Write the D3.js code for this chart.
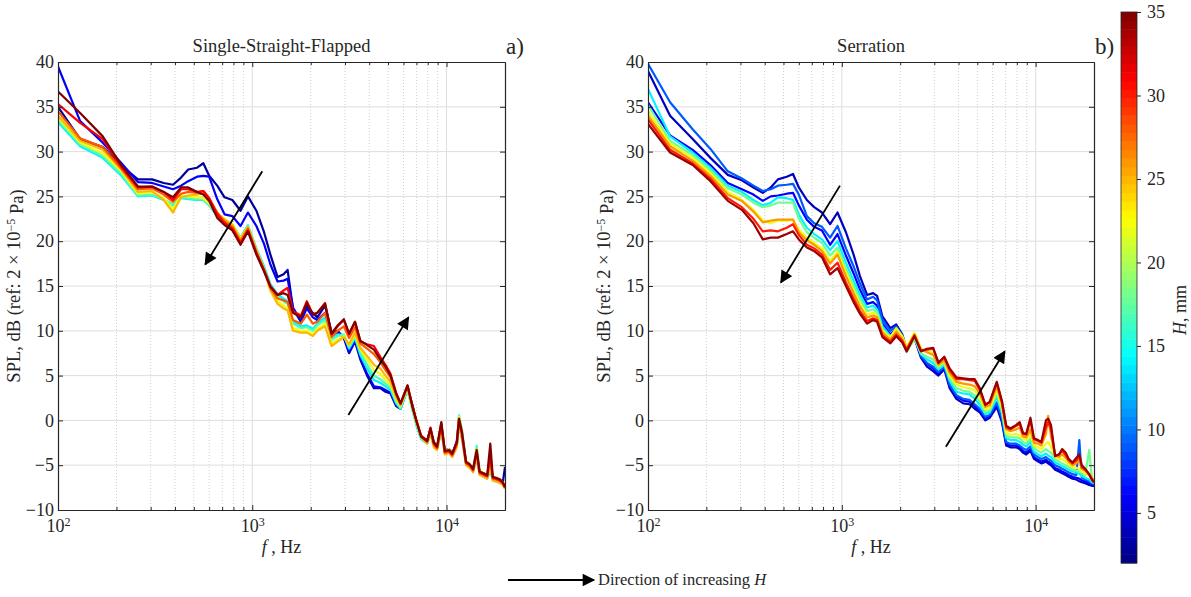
<!DOCTYPE html>
<html>
<head>
<meta charset="utf-8">
<script src="https://cdn.jsdelivr.net/npm/d3@7"></script>
<style>
  body { margin: 0; background: #fff; }
  text { font-family: "Liberation Serif", "Times New Roman", serif; fill: #262626; }
</style>
</head>
<body>
<div id="container"></div>
<script>
// frequency bins shared by both panels (Hz)
const freq = [100, 130, 170, 210, 258, 305, 350, 391, 430, 468, 520, 560, 600, 660, 720, 790, 870, 950,
  1050, 1150, 1240, 1350, 1450, 1520, 1620, 1780, 1910, 2050, 2160, 2370, 2560, 2750, 2960, 3150, 3380,
  3600, 3900, 4230, 4560, 4850, 5150, 5500, 5800, 6300, 6700, 7050, 7400, 7950, 8270, 8600, 8940, 9400,
  9800, 10300, 10700, 11300, 11600, 12000, 12600, 13200, 13700, 14300, 14800, 15500, 16200, 16800,
  17300, 18000, 18900, 19500, 20000]

// H (mm) of each curve, one column per H in the tables below
const hLeft = [3, 6, 14, 17, 22, 25, 28, 31, 35]
const hRight = [4, 6, 9, 14, 18, 22, 26, 30, 34]

// SPL (dB) rows, one row per frequency bin -- Single-Straight-Flapped
const splLeft = [
  [35.0, 39.5, 33.3, 33.5, 33.8, 34.0, 34.5, 35.3, 36.7],
  [31.4, 33.4, 30.6, 30.8, 31.0, 31.2, 31.5, 33.2, 34.3],
  [30.5, 31.0, 29.3, 29.5, 29.8, 30.2, 30.5, 31.4, 31.7],
  [28.5, 28.8, 27.4, 27.6, 27.9, 28.1, 28.2, 28.4, 28.6],
  [26.9, 26.6, 25.0, 25.1, 25.3, 25.5, 25.8, 26.0, 26.1],
  [26.9, 26.5, 25.1, 25.2, 25.5, 25.6, 25.9, 26.1, 26.1],
  [26.5, 26.1, 24.6, 24.7, 24.8, 24.6, 25.2, 25.5, 25.5],
  [26.3, 25.8, 24.0, 24.1, 23.6, 23.2, 24.4, 24.6, 24.9],
  [27.1, 26.2, 24.8, 24.9, 25.1, 24.9, 25.3, 25.8, 26.0],
  [28.0, 26.7, 24.7, 24.8, 25.0, 25.1, 25.5, 25.8, 26.0],
  [28.2, 27.2, 24.6, 24.7, 24.9, 25.2, 25.4, 25.5, 25.5],
  [28.7, 27.3, 24.6, 24.7, 24.8, 25.4, 25.6, 25.6, 25.2],
  [27.3, 27.2, 24.0, 24.1, 24.2, 24.6, 24.8, 24.8, 24.5],
  [26.2, 24.7, 22.8, 22.9, 23.0, 23.1, 23.2, 23.0, 22.6],
  [24.9, 23.0, 22.4, 22.4, 22.5, 22.4, 22.2, 22.0, 21.8],
  [24.6, 22.8, 21.8, 21.9, 21.9, 21.8, 21.6, 21.4, 21.2],
  [23.4, 21.7, 20.4, 20.4, 20.3, 20.2, 20.0, 19.8, 19.6],
  [25.0, 23.2, 21.8, 21.7, 21.6, 21.6, 21.4, 21.2, 21.1],
  [23.4, 21.7, 19.2, 19.0, 19.0, 19.0, 18.8, 18.7, 18.5],
  [21.0, 19.7, 17.2, 17.0, 16.9, 16.8, 16.8, 16.8, 16.6],
  [18.5, 17.4, 15.2, 14.9, 14.6, 14.5, 14.8, 15.0, 14.9],
  [16.0, 15.5, 14.1, 13.8, 13.3, 13.0, 13.6, 14.0, 14.0],
  [16.3, 15.6, 13.6, 13.3, 12.8, 12.5, 13.4, 14.5, 14.2],
  [16.8, 15.8, 13.3, 13.0, 12.5, 12.3, 13.2, 14.8, 14.0],
  [12.5, 12.6, 11.0, 10.8, 10.3, 10.0, 11.2, 12.2, 12.0],
  [11.0, 11.1, 10.5, 10.3, 10.0, 9.8, 10.8, 11.7, 11.5],
  [12.8, 12.5, 10.6, 10.4, 10.0, 9.8, 11.8, 13.3, 13.1],
  [12.0, 11.5, 10.2, 10.0, 9.6, 9.4, 10.8, 11.8, 11.8],
  [11.5, 11.2, 10.8, 10.6, 10.2, 10.0, 11.0, 12.0, 12.0],
  [12.8, 12.0, 11.5, 11.2, 10.8, 10.5, 12.0, 13.1, 13.0],
  [9.8, 9.6, 9.3, 9.0, 8.6, 8.3, 9.3, 9.6, 9.7],
  [10.0, 9.8, 9.6, 9.4, 9.0, 8.8, 10.0, 10.5, 10.6],
  [9.2, 9.3, 9.5, 9.6, 9.4, 9.3, 10.5, 11.2, 11.3],
  [7.5, 7.6, 8.0, 8.2, 8.4, 8.5, 9.2, 9.6, 9.7],
  [8.8, 9.0, 9.2, 9.4, 9.6, 9.8, 10.4, 11.0, 11.0],
  [6.8, 7.0, 7.3, 7.6, 7.9, 8.1, 8.6, 8.8, 8.9],
  [5.0, 5.2, 5.8, 6.2, 6.8, 7.2, 8.0, 8.5, 8.4],
  [3.6, 3.8, 4.5, 5.0, 5.6, 6.2, 7.4, 8.3, 7.9],
  [3.6, 3.7, 4.2, 4.6, 5.2, 5.8, 6.5, 7.1, 6.8],
  [3.2, 3.4, 3.8, 4.1, 4.5, 5.0, 5.6, 6.2, 6.0],
  [3.0, 3.1, 3.4, 3.7, 4.0, 4.3, 4.8, 5.2, 5.0],
  [1.6, 1.7, 1.9, 2.1, 2.4, 2.6, 2.9, 3.1, 3.0],
  [1.3, 1.4, 1.3, 1.4, 1.6, 1.7, 1.8, 1.9, 1.9],
  [3.5, 3.5, 3.4, 3.5, 3.6, 3.7, 3.8, 3.9, 3.9],
  [1.6, 1.4, 1.0, 1.1, 1.2, 1.3, 1.4, 1.5, 1.4],
  [-0.5, -0.6, -0.8, -0.6, -0.5, -0.4, -0.3, -0.2, -0.3],
  [-1.8, -1.9, -2.1, -2.0, -1.8, -1.9, -1.8, -1.7, -1.8],
  [-2.2, -2.3, -2.6, -2.5, -2.3, -2.6, -2.4, -2.3, -2.3],
  [-1.2, -1.3, -1.6, -1.4, -1.2, -1.4, -1.0, -0.8, -0.9],
  [-2.4, -2.6, -2.8, -2.7, -2.6, -3.0, -2.7, -2.5, -2.5],
  [-2.9, -3.0, -3.2, -3.0, -2.9, -3.3, -3.1, -3.0, -2.9],
  [-1.0, -0.9, -1.2, -0.5, -0.6, -1.0, -0.6, -0.3, -0.2],
  [-3.3, -3.5, -3.7, -3.5, -3.4, -3.8, -3.6, -3.5, -3.4],
  [-3.2, -3.3, -3.6, -3.3, -3.2, -3.6, -3.5, -3.4, -3.3],
  [-3.6, -3.8, -4.0, -3.8, -3.7, -4.1, -3.9, -3.8, -3.7],
  [-2.6, -2.3, -2.9, -2.6, -2.6, -3.0, -2.7, -2.5, -2.4],
  [-0.3, 0.3, -0.5, 0.6, 0.4, -0.2, 0.0, 0.1, 0.2],
  [-1.8, -1.2, -2.0, -1.0, -1.3, -2.0, -1.6, -1.4, -1.3],
  [-4.6, -4.7, -4.9, -4.6, -4.5, -5.0, -4.8, -4.7, -4.6],
  [-5.0, -5.1, -5.3, -5.0, -4.9, -5.3, -5.1, -5.0, -4.9],
  [-5.4, -5.5, -5.7, -5.5, -5.4, -5.8, -5.6, -5.5, -5.4],
  [-4.2, -4.0, -4.3, -2.8, -3.2, -4.0, -3.6, -3.5, -3.3],
  [-5.7, -5.8, -6.0, -5.6, -5.6, -6.1, -5.9, -5.8, -5.7],
  [-5.9, -6.1, -6.3, -6.0, -5.9, -6.3, -6.1, -6.0, -5.9],
  [-6.1, -6.3, -6.5, -6.2, -6.1, -6.5, -6.3, -6.2, -6.1],
  [-5.2, -5.0, -5.6, -4.8, -4.6, -5.2, -4.2, -3.8, -2.6],
  [-6.4, -6.5, -6.7, -6.4, -6.3, -6.7, -6.5, -6.4, -6.3],
  [-6.5, -6.6, -6.8, -6.5, -6.4, -6.8, -6.6, -6.5, -6.4],
  [-6.7, -6.8, -7.0, -6.7, -6.6, -7.0, -6.8, -6.7, -6.6],
  [-6.9, -7.0, -7.2, -7.0, -6.9, -7.2, -7.0, -7.0, -6.9],
  [-5.2, -7.4, -7.6, -7.4, -7.3, -7.6, -7.5, -7.5, -7.4]
]

// SPL (dB) rows -- Serration
const splRight = [
  [39.0, 35.5, 39.8, 37.0, 35.2, 34.5, 34.0, 33.6, 33.1],
  [34.0, 31.8, 35.5, 31.7, 31.2, 30.9, 30.6, 30.2, 29.9],
  [31.4, 30.2, 32.5, 29.9, 29.6, 29.3, 29.0, 28.7, 28.5],
  [29.3, 28.5, 30.3, 28.2, 27.9, 27.6, 27.3, 27.0, 26.7],
  [27.4, 26.5, 27.8, 26.2, 25.9, 25.5, 25.2, 24.8, 24.5],
  [26.8, 25.8, 27.0, 25.5, 25.2, 24.6, 24.5, 23.8, 23.5],
  [26.0, 25.2, 26.2, 24.6, 24.3, 23.5, 23.3, 22.5, 22.0],
  [25.4, 24.5, 25.6, 24.0, 23.8, 22.3, 22.1, 21.1, 20.2],
  [26.0, 25.0, 25.8, 24.3, 24.0, 22.0, 22.3, 21.2, 20.4],
  [26.9, 25.1, 26.2, 24.9, 24.3, 22.3, 22.4, 21.1, 20.4],
  [27.2, 25.3, 26.3, 24.8, 24.3, 22.3, 22.4, 21.5, 20.8],
  [27.5, 25.4, 26.4, 24.6, 24.3, 22.4, 22.4, 21.9, 21.1],
  [26.0, 24.0, 25.2, 23.0, 22.5, 21.3, 21.0, 20.7, 20.2],
  [24.6, 22.4, 22.8, 21.5, 21.0, 20.4, 20.1, 19.6, 19.3],
  [23.8, 21.6, 22.0, 20.8, 20.4, 19.8, 19.6, 19.2, 18.9],
  [23.2, 21.2, 21.6, 20.2, 19.8, 19.2, 18.9, 18.5, 18.2],
  [21.9, 19.6, 20.4, 19.0, 18.4, 17.8, 17.5, 16.8, 16.3],
  [23.2, 20.8, 21.7, 20.0, 19.3, 18.8, 18.5, 17.6, 17.0],
  [21.0, 18.4, 19.2, 17.6, 17.0, 16.5, 16.1, 15.4, 15.0],
  [18.5, 16.4, 17.2, 15.6, 15.0, 14.5, 14.2, 13.6, 13.2],
  [16.1, 14.6, 15.3, 14.0, 13.5, 13.0, 12.7, 12.2, 11.9],
  [14.0, 13.0, 13.5, 12.6, 12.2, 11.8, 11.5, 11.1, 10.8],
  [14.2, 13.2, 13.8, 12.8, 12.4, 12.0, 11.7, 11.4, 11.2],
  [13.9, 12.8, 13.4, 12.4, 12.1, 11.7, 11.5, 11.2, 11.0],
  [11.6, 10.8, 11.2, 10.5, 10.2, 10.0, 9.8, 9.5, 9.3],
  [10.3, 9.6, 10.0, 9.4, 9.0, 9.3, 9.0, 8.8, 8.6],
  [10.7, 10.2, 10.5, 10.0, 9.5, 10.3, 9.9, 9.6, 9.4],
  [9.6, 9.3, 9.5, 9.2, 8.8, 9.4, 9.1, 8.9, 8.7],
  [7.9, 7.9, 8.0, 7.9, 7.6, 8.2, 8.0, 7.9, 7.7],
  [9.2, 9.2, 9.3, 9.3, 9.1, 9.8, 9.6, 9.5, 9.4],
  [7.0, 7.2, 7.2, 7.4, 7.5, 8.0, 7.9, 7.8, 7.7],
  [6.0, 6.3, 6.4, 6.8, 7.1, 7.8, 7.6, 7.9, 8.0],
  [5.5, 5.8, 6.0, 6.4, 6.8, 7.5, 7.3, 8.0, 8.1],
  [5.0, 5.2, 5.4, 5.7, 5.9, 6.1, 6.2, 6.5, 6.4],
  [5.7, 5.9, 6.0, 6.2, 6.4, 6.6, 6.7, 7.0, 7.1],
  [3.6, 3.9, 4.0, 4.4, 4.7, 5.0, 5.3, 5.6, 5.8],
  [2.4, 2.7, 2.8, 3.2, 3.6, 4.0, 4.3, 4.6, 4.8],
  [1.9, 2.2, 2.4, 3.0, 3.3, 3.7, 4.1, 4.6, 4.7],
  [1.8, 2.1, 2.3, 2.9, 3.2, 3.6, 4.0, 4.5, 4.6],
  [1.3, 1.6, 1.8, 2.4, 2.8, 3.3, 3.8, 4.4, 4.6],
  [0.9, 1.1, 1.3, 1.7, 2.1, 2.6, 3.0, 3.4, 3.6],
  [0.0, 0.2, 0.4, 0.7, 0.9, 1.2, 1.5, 1.8, 1.7],
  [0.3, 0.5, 0.6, 0.9, 1.1, 1.4, 1.7, 2.0, 2.1],
  [1.5, 1.8, 2.0, 2.6, 3.0, 3.4, 3.8, 4.2, 4.3],
  [-0.2, 0.1, 0.3, 0.8, 1.1, 1.5, 1.8, 2.0, 2.2],
  [-2.8, -2.6, -2.4, -2.0, -1.7, -1.4, -1.0, -0.8, -0.6],
  [-3.0, -2.8, -2.6, -2.2, -1.9, -1.6, -1.2, -1.0, -0.9],
  [-3.0, -2.8, -2.6, -2.2, -1.9, -1.5, -1.0, -0.6, -0.5],
  [-3.2, -3.0, -2.8, -2.4, -2.0, -1.7, -0.8, -0.4, -0.2],
  [-3.6, -3.4, -3.1, -2.7, -2.4, -2.0, -1.8, -1.5, -1.4],
  [-3.8, -3.6, -3.3, -2.9, -2.6, -2.2, -1.9, -1.6, -1.5],
  [-3.4, -3.2, -2.9, -2.4, -2.0, -1.5, -1.0, 0.0, 0.3],
  [-4.3, -4.1, -3.8, -3.5, -3.1, -2.8, -2.5, -2.1, -2.0],
  [-4.6, -4.4, -4.1, -3.8, -3.4, -3.0, -2.6, -2.3, -2.2],
  [-4.8, -4.6, -4.3, -4.0, -3.6, -3.2, -2.8, -2.5, -2.4],
  [-4.6, -4.4, -4.1, -3.7, -3.2, -2.6, -1.5, -0.8, 0.0],
  [-4.8, -4.6, -4.3, -3.9, -3.4, -2.4, 0.5, -0.2, 0.2],
  [-5.0, -4.8, -4.5, -4.1, -3.6, -3.0, -1.8, -1.0, -0.5],
  [-5.5, -5.3, -5.0, -4.7, -4.3, -4.0, -3.8, -3.9, -4.0],
  [-5.7, -5.5, -5.2, -4.9, -4.6, -4.3, -4.1, -3.8, -3.8],
  [-5.9, -5.7, -5.4, -5.1, -4.8, -4.3, -3.8, -3.4, -3.2],
  [-6.1, -5.9, -5.6, -5.3, -5.0, -4.6, -4.2, -3.9, -3.6],
  [-6.3, -6.1, -5.8, -5.5, -5.2, -4.9, -4.6, -4.4, -4.3],
  [-6.5, -6.3, -6.0, -5.7, -5.5, -5.2, -5.0, -4.8, -4.7],
  [-6.6, -6.4, -6.1, -5.8, -5.6, -5.3, -4.8, -4.5, -4.2],
  [-6.8, -6.5, -2.2, -6.0, -5.7, -5.4, -4.4, -3.9, -3.8],
  [-6.9, -6.7, -6.4, -6.2, -5.9, -5.7, -5.4, -5.2, -5.0],
  [-7.0, -6.8, -6.6, -6.4, -6.1, -5.9, -5.6, -5.5, -5.4],
  [-7.2, -7.0, -6.8, -6.6, -3.3, -6.2, -6.0, -6.1, -6.0],
  [-7.3, -7.1, -7.0, -6.9, -6.5, -6.5, -6.4, -6.6, -6.6],
  [-7.3, -7.2, -7.1, -7.0, -6.8, -6.8, -6.7, -6.9, -6.9]
]

const yTicks = [-10, -5, 0, 5, 10, 15, 20, 25, 30, 35, 40]
const xMajor = [100, 1000, 10000]
const xMinor = [200, 300, 400, 500, 600, 700, 800, 900, 2000, 3000, 4000, 5000, 6000, 7000, 8000, 9000]
const cbTicks = [5, 10, 15, 20, 25, 30, 35]
const hRange = [2, 35]

// arrow annotations in data units: [f0, spl0, f1, spl1], head at the second point
const arrowsLeft = [[1126, 27.8, 573, 17.4], [3124, 0.6, 6370, 11.5]]
const arrowsRight = [[978, 26.2, 485, 15.4], [3443, -2.95, 6927, 7.7]]

const width = 1191, height = 597
const plotTop = 62, plotBottom = 510

const svg = d3.select("#container").append("svg")
  .attr("width", width)
  .attr("height", height)

// arrow head marker
svg.append("defs").append("marker")
  .attr("id", "head")
  .attr("viewBox", "0 0 10 10")
  .attr("refX", 9).attr("refY", 5)
  .attr("markerWidth", 8.5).attr("markerHeight", 7)
  .attr("markerUnits", "strokeWidth")
  .attr("orient", "auto")
  .append("path").attr("d", "M0,0 L10,5 L0,10 z").attr("fill", "#000")

// matlab style jet colormap
function jet(t) {
  const c = v => Math.round(255 * Math.max(0, Math.min(1, v)))
  return `rgb(${c(1.5 - Math.abs(4 * t - 3))},${c(1.5 - Math.abs(4 * t - 2))},${c(1.5 - Math.abs(4 * t - 1))})`
}
const hNorm = d3.scaleLinear().domain(hRange).range([0, 1])

const y = d3.scaleLinear().domain([-10, 40]).range([plotBottom, plotTop])

const panels = [
  { title: "Single-Straight-Flapped", tag: "a)", h: hLeft, spl: splLeft, x0: 58, x1: 505, arrows: arrowsLeft },
  { title: "Serration", tag: "b)", h: hRight, spl: splRight, x0: 648, x1: 1094, arrows: arrowsRight }
]

panels.forEach((p, pi) => {
  const x = d3.scaleLog().domain([100, 20000]).range([p.x0, p.x1])
  const g = svg.append("g")

  // grid: dotted minor, solid major
  g.selectAll(".minor").data(xMinor).enter().append("line")
    .attr("x1", d => x(d)).attr("x2", d => x(d))
    .attr("y1", plotTop).attr("y2", plotBottom)
    .attr("stroke", "#cfcfcf").attr("stroke-width", 1).attr("stroke-dasharray", "1,2")
  g.selectAll(".vmajor").data(xMajor.slice(1)).enter().append("line")
    .attr("x1", d => x(d)).attr("x2", d => x(d))
    .attr("y1", plotTop).attr("y2", plotBottom)
    .attr("stroke", "#dedede").attr("stroke-width", 1)
  g.selectAll(".hmajor").data(yTicks.slice(1, -1)).enter().append("line")
    .attr("x1", p.x0).attr("x2", p.x1)
    .attr("y1", d => y(d)).attr("y2", d => y(d))
    .attr("stroke", "#dedede").attr("stroke-width", 1)

  // curves, one per H, higher H drawn last
  const clipId = "clip" + pi
  svg.append("clipPath").attr("id", clipId).append("rect")
    .attr("x", p.x0).attr("y", plotTop).attr("width", p.x1 - p.x0).attr("height", plotBottom - plotTop)
  const series = p.h.map((h, j) => ({ h: h, pts: freq.map((f, i) => [f, p.spl[i][j]]) }))
  const line = d3.line().x(d => x(d[0])).y(d => y(d[1]))
  g.append("g").attr("clip-path", `url(#${clipId})`)
    .selectAll("path").data(series).enter().append("path")
      .attr("d", d => line(d.pts))
      .attr("fill", "none")
      .attr("stroke", d => jet(hNorm(d.h)))
      .attr("stroke-width", 2.2)
      .attr("stroke-linejoin", "round")

  // axes, ticks pointing inwards like matlab
  const axCol = "#262626"
  const yl = g.append("g").attr("transform", `translate(${p.x0},0)`)
    .call(d3.axisLeft(y).tickValues(yTicks).tickSizeInner(-5).tickSizeOuter(0).tickPadding(4))
  const yr = g.append("g").attr("transform", `translate(${p.x1},0)`)
    .call(d3.axisRight(y).tickValues(yTicks).tickSizeInner(-5).tickSizeOuter(0).tickFormat(""))
  const xb = g.append("g").attr("transform", `translate(0,${plotBottom})`)
    .call(d3.axisBottom(x).tickValues(xMajor).tickSizeInner(-5).tickSizeOuter(0).tickPadding(9))
  const xbm = g.append("g").attr("transform", `translate(0,${plotBottom})`)
    .call(d3.axisBottom(x).tickValues(xMinor).tickSizeInner(-3).tickSizeOuter(0).tickFormat(""))
  const xt = g.append("g").attr("transform", `translate(0,${plotTop})`)
    .call(d3.axisTop(x).tickValues(xMajor).tickSizeInner(-5).tickSizeOuter(0).tickFormat(""))
  const xtm = g.append("g").attr("transform", `translate(0,${plotTop})`)
    .call(d3.axisTop(x).tickValues(xMinor).tickSizeInner(-3).tickSizeOuter(0).tickFormat(""))
  ;[yl, yr, xb, xbm, xt, xtm].forEach(a => {
    a.select(".domain").attr("stroke", axCol).attr("stroke-width", 1.2)
    a.selectAll(".tick line").attr("stroke", axCol)
    a.selectAll("text").attr("font-family", "Liberation Serif").attr("font-size", 18).attr("fill", axCol)
  })
  // 10^n labels
  xb.selectAll(".tick text").each(function (d) {
    const t = d3.select(this).text(null)
    t.append("tspan").text("10")
    t.append("tspan").attr("dy", "-0.45em").attr("font-size", 12).text(Math.round(Math.log10(d)))
  })

  // titles and labels
  const cx = (p.x0 + p.x1) / 2
  g.append("text").attr("x", cx).attr("y", 52).attr("text-anchor", "middle")
    .attr("font-size", 18.5).text(p.title)
  g.append("text").attr("x", p.x1 + 1).attr("y", 54)
    .attr("font-size", 23).text(p.tag)

  const xl = g.append("text").attr("x", cx).attr("y", 553).attr("text-anchor", "middle").attr("font-size", 18)
  xl.append("tspan").attr("font-style", "italic").text("f")
  xl.append("tspan").text(" , Hz")

  const ylab = g.append("text")
    .attr("transform", `translate(${p.x0 - 38},${(plotTop + plotBottom) / 2}) rotate(-90)`)
    .attr("text-anchor", "middle").attr("font-size", 18.5)
  ylab.append("tspan").text("SPL, dB (ref: 2 \u00d7 10")
  ylab.append("tspan").attr("dy", "-0.45em").attr("font-size", 12).text("\u22125")
  ylab.append("tspan").attr("dy", "0.45em").text(" Pa)")

  // direction arrows
  g.selectAll(".arr").data(p.arrows).enter().append("line")
    .attr("x1", d => x(d[0])).attr("y1", d => y(d[1]))
    .attr("x2", d => x(d[2])).attr("y2", d => y(d[3]))
    .attr("stroke", "#000").attr("stroke-width", 1.8)
    .attr("marker-end", "url(#head)")
})

// colorbar
const cbX = 1121, cbW = 16
const cb = d3.scaleLinear().domain(hRange).range([563, 12])
const nBands = 64
const bands = d3.range(nBands)
const step = (hRange[1] - hRange[0]) / nBands
svg.append("g").selectAll("rect").data(bands).enter().append("rect")
  .attr("x", cbX).attr("width", cbW)
  .attr("y", i => cb(hRange[0] + (i + 1) * step))
  .attr("height", i => cb(hRange[0] + i * step) - cb(hRange[0] + (i + 1) * step) + 0.5)
  .attr("fill", i => jet((i + 0.5) / nBands))
svg.append("rect").attr("x", cbX).attr("y", 12).attr("width", cbW).attr("height", 551)
  .attr("fill", "none").attr("stroke", "#262626").attr("stroke-width", 0.8)
const cba = svg.append("g").attr("transform", `translate(${cbX + cbW},0)`)
  .call(d3.axisRight(cb).tickValues(cbTicks).tickSize(4).tickPadding(6))
cba.select(".domain").remove()
cba.selectAll(".tick line").attr("stroke", "#262626")
cba.selectAll("text").attr("font-family", "Liberation Serif").attr("font-size", 18).attr("fill", "#262626")

const cbl = svg.append("text")
  .attr("transform", "translate(1186,310) rotate(-90)")
  .attr("text-anchor", "middle").attr("font-size", 18)
cbl.append("tspan").attr("font-style", "italic").text("H")
cbl.append("tspan").text(", mm")

// legend for the arrows
svg.append("line").attr("x1", 508).attr("y1", 580).attr("x2", 594).attr("y2", 580)
  .attr("stroke", "#000").attr("stroke-width", 1.8).attr("marker-end", "url(#head)")
const leg = svg.append("text").attr("x", 598).attr("y", 585).attr("font-size", 16.5).attr("fill", "#000")
leg.append("tspan").text("Direction of increasing ")
leg.append("tspan").attr("font-style", "italic").text("H")
</script>
</body>
</html>
